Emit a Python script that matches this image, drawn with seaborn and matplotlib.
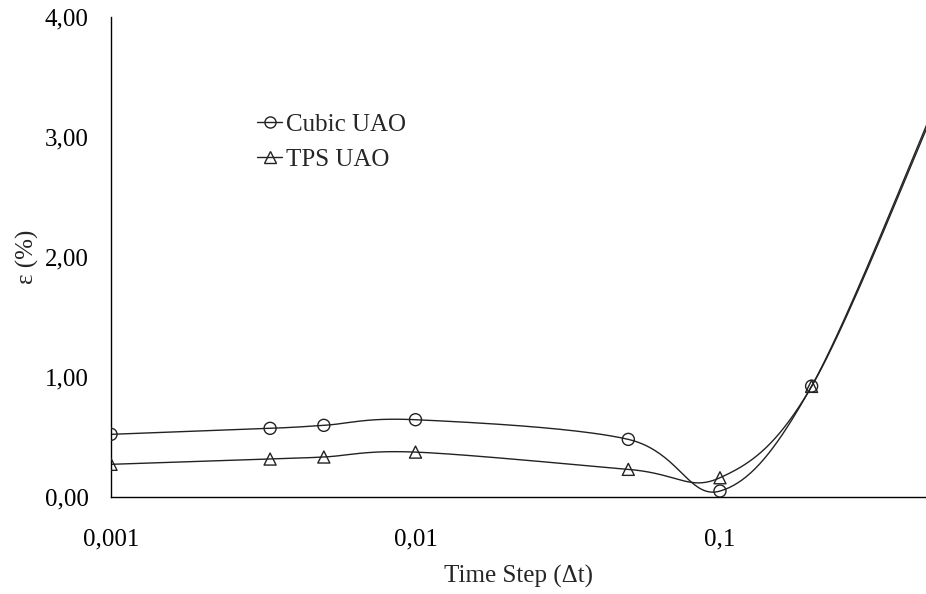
import numpy as np
import pandas as pd
import matplotlib
matplotlib.use("Agg")
import matplotlib.pyplot as plt
from matplotlib.lines import Line2D
from matplotlib.ticker import FixedLocator, FixedFormatter, NullLocator
import seaborn as sns

# ---- data ----
time_step = [0.001, 0.00333, 0.005, 0.01, 0.05, 0.1, 0.2, 0.5]
cubic_uao = [0.52, 0.57, 0.595, 0.642, 0.478, 0.047, 0.922, 3.22]
tps_uao = [0.27, 0.314, 0.331, 0.372, 0.228, 0.158, 0.92, 3.19]
series_names = ["Cubic UAO", "TPS UAO"]
x_ticks = [0.001, 0.01, 0.1]
x_tick_labels = ["0,001", "0,01", "0,1"]
y_ticks = [0, 1, 2, 3, 4]
y_tick_labels = ["0,00", "1,00", "2,00", "3,00", "4,00"]


def smooth_curve(xs, ys, n=40):
    """Excel-like smoothed line (Catmull-Rom Bezier) in log-x space."""
    u = np.log10(np.asarray(xs, float))
    v = np.asarray(ys, float)
    P = np.column_stack([u, v])
    out = []
    m = len(P)
    for i in range(m - 1):
        p0 = P[i - 1] if i > 0 else P[i]
        p1 = P[i]
        p2 = P[i + 1]
        p3 = P[i + 2] if i + 2 < m else P[i + 1]
        c1 = p1 + (p2 - p0) / 6.0
        c2 = p2 - (p3 - p1) / 6.0
        t = np.linspace(0, 1, n, endpoint=(i == m - 2))[:, None]
        b = ((1 - t) ** 3) * p1 + 3 * ((1 - t) ** 2) * t * c1 + 3 * (1 - t) * t ** 2 * c2 + t ** 3 * p2
        out.append(b)
    B = np.vstack(out)
    return 10 ** B[:, 0], B[:, 1]


sns.set_style("white")
plt.rcParams["font.family"] = ["Liberation Serif", "DejaVu Serif"]

fig = plt.figure(figsize=(9.26, 5.94), dpi=100)
ax = fig.add_axes([0.1199, 0.1638, 0.8801, 0.8076])

markers = ["o", "^"]
for name, ys, mk in zip(series_names, [cubic_uao, tps_uao], markers):
    sx, sy = smooth_curve(time_step, ys)
    df_line = pd.DataFrame({"x": sx, "y": sy})
    sns.lineplot(data=df_line, x="x", y="y", ax=ax, sort=False, color="#222222",
                 linewidth=1.0, estimator=None)
    df_pts = pd.DataFrame({"x": time_step, "y": ys})
    sns.scatterplot(data=df_pts, x="x", y="y", ax=ax, marker=mk, s=75,
                    facecolor="none", edgecolor="#222222", linewidth=1.0, zorder=3)

ax.set_xscale("log")
ax.set_xlim(0.001, 0.475)
ax.set_ylim(0, 4)
ax.xaxis.set_major_locator(FixedLocator(x_ticks))
ax.xaxis.set_minor_locator(NullLocator())
ax.xaxis.set_major_formatter(FixedFormatter(x_tick_labels))
ax.set_yticks(y_ticks)
ax.set_yticklabels(y_tick_labels)

for s in ["top", "right"]:
    ax.spines[s].set_visible(False)
for s in ["left", "bottom"]:
    ax.spines[s].set_color("black")
    ax.spines[s].set_linewidth(1.0)

ax.tick_params(axis="both", direction="out", length=6, width=1.0, colors="black",
               labelsize=18, pad=10)
ax.tick_params(axis="x", direction="inout", length=10, pad=18)
ax.set_xlabel("Time Step (Δt)", fontsize=18, labelpad=10)
ax.set_ylabel("ε (%)", fontsize=18, labelpad=4)

handles = [Line2D([0], [0], color="#222222", lw=1.0, marker=m, markersize=8,
                  markerfacecolor="none", markeredgecolor="#222222") for m in markers]
leg = ax.legend(handles, series_names, loc="upper left", bbox_to_anchor=(0.2668, 0.826),
                bbox_transform=fig.transFigure, frameon=False, fontsize=18,
                handlelength=1.0, handletextpad=0.15, labelspacing=0.5, borderaxespad=0)

fig.savefig("out.png", dpi=100)
